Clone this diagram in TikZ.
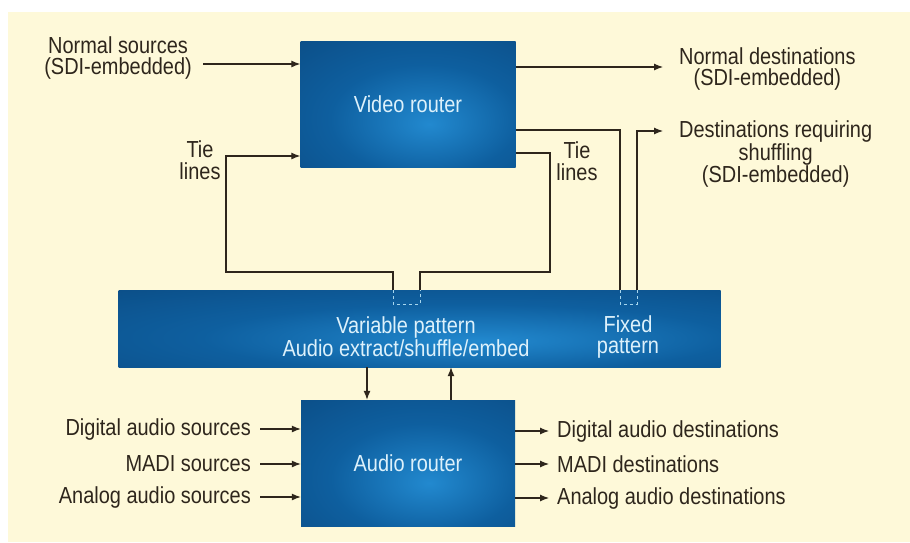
\documentclass[tikz,border=0pt]{standalone}
\usepackage{fontspec}
\setmainfont{Liberation Sans}[FakeStretch=0.86]
\usepackage{xcolor}
\usepackage{tikz}
\usetikzlibrary{arrows.meta,positioning}
\definecolor{routerdark}{HTML}{0A4479}
\definecolor{routermid}{HTML}{0E5F9F}
\definecolor{routerlight}{HTML}{2289CF}
\definecolor{routertext}{HTML}{DDF1FB}
\definecolor{portdash}{HTML}{A6D6EE}
\definecolor{pagecream}{HTML}{FEF9D9}
\definecolor{inkbrown}{HTML}{2E261C}
\pgfdeclareradialshading{routershade}{\pgfpoint{5bp}{-8bp}}{color(0bp)=(routerlight); color(22bp)=(routermid); color(55bp)=(routerdark); color(100bp)=(routerdark)}

\begin{document}
\begin{tikzpicture}[x=1pt,y=-1pt,>=Latex,font=\fontsize{23.2}{21.5}\selectfont]
\tikzset{
router/.style={shading=routershade,text=routertext,inner sep=0pt,align=center},
lbl/.style={text=inkbrown,inner sep=1pt,align=center},
inbox/.style={text=routertext,inner sep=1pt,align=center},
a/.style={->,line width=1.1pt,color=inkbrown,arrows={-Latex[length=9pt,width=7pt]}},
wire/.style={line width=1.1pt,color=inkbrown},
port/.style={line width=1pt,color=portdash,dash pattern=on 3pt off 3pt}}

\useasboundingbox (0,0) rectangle (910,542);
\fill[white] (0,0) rectangle (910,542);
\fill[pagecream] (8,12) rectangle (910,542);

\node[router,minimum width=215pt,minimum height=126pt] (video) at (408,104) {Video router};
\node[router,minimum width=602pt,minimum height=77pt] (bar) at (419.5,328.5) {};
\node[router,minimum width=214pt,minimum height=126pt] (audio) at (408,463) {Audio router};

\node[inbox] (varpat) at (406,337) {Variable pattern\\Audio extract/shuffle/embed};
\node[inbox] (fixpat) at (628,337) {Fixed\\pattern};

\node[lbl,anchor=east] (nsrc) at (193,58) {Normal sources\\(SDI-embedded)};
\node[lbl,anchor=west] (ndst) at (678,69) {Normal destinations\\(SDI-embedded)};
\node[lbl,anchor=west] (sdst) at (678,154) {Destinations requiring\\shuffling\\(SDI-embedded)};
\node[lbl] (tieL) at (200,160) {Tie\\lines};
\node[lbl] (tieR) at (577,161) {Tie\\lines};

\node[lbl,anchor=east] (dsrc) at (252,429) {Digital audio sources};
\node[lbl,anchor=east] (msrc) at (252,464) {MADI sources};
\node[lbl,anchor=east] (asrc) at (252,497) {Analog audio sources};
\node[lbl,anchor=west] (ddst) at (556,431) {Digital audio destinations};
\node[lbl,anchor=west] (mdst) at (556,464) {MADI destinations};
\node[lbl,anchor=west] (adst) at (556,498) {Analog audio destinations};

% ports where the lines meet the shuffler bar
\coordinate (tieinL) at (393,290);
\coordinate (tieinR) at (420,290);
\coordinate (fixin) at (620,290);
\coordinate (fixout) at (637,290);
\coordinate (nsrcout) at (203,64);
\coordinate (ndstin) at (663,67);
\coordinate (sdstin) at (663,131);

\draw[port] (tieinL) -- ++(0,14) -| (tieinR);
\draw[port] (fixin) -- ++(0,14) -| (fixout);

\draw[a] (nsrcout) -- (nsrcout -| video.west);
\draw[a] (ndstin -| video.east) -- (ndstin);
\draw[wire] (video.east |- 0,130) -| (fixin);
\draw[a] (fixout) |- (sdstin);

% tie lines loop through the variable pattern section
\draw[a] (tieinL) |- (226,272) |- (video.west |- 0,156);
\draw[wire] (video.east |- 0,153) -| (550,272) -| (tieinR);

\draw[a] (bar.south -| 367,0) -- (audio.north -| 367,0);
\draw[a] (audio.north -| 451,0) -- (bar.south -| 451,0);

\draw[a] ([xshift=8pt]dsrc.east) -- (dsrc -| audio.west);
\draw[a] ([xshift=8pt]msrc.east) -- (msrc -| audio.west);
\draw[a] ([xshift=8pt]asrc.east) -- (asrc -| audio.west);
\draw[a] (ddst -| audio.east) -- ([xshift=-7pt]ddst.west);
\draw[a] (mdst -| audio.east) -- ([xshift=-7pt]mdst.west);
\draw[a] (adst -| audio.east) -- ([xshift=-7pt]adst.west);
\end{tikzpicture}
\end{document}
